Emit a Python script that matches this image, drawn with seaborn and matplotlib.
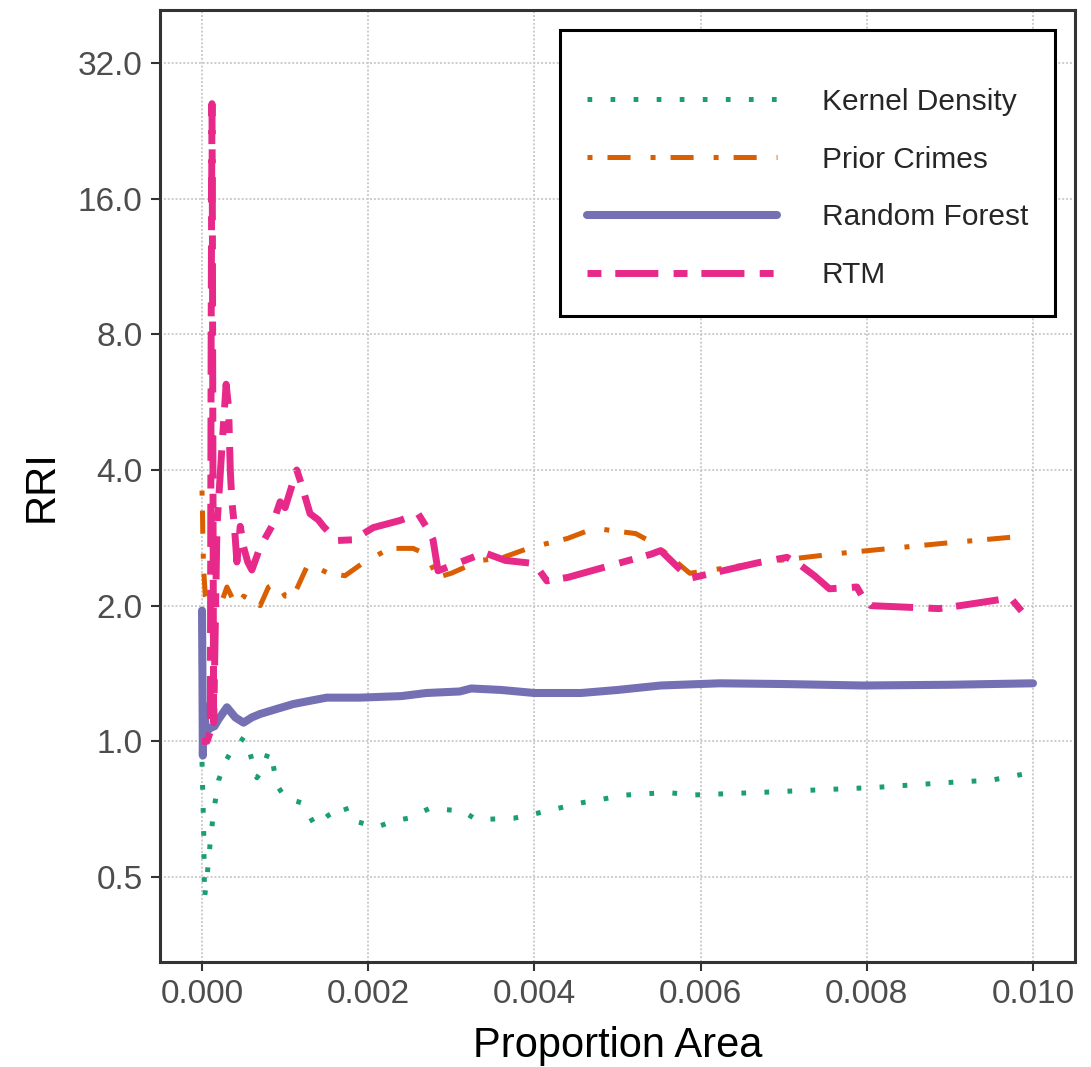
import numpy as np
import pandas as pd
import matplotlib
matplotlib.use("Agg")
import matplotlib.pyplot as plt
import seaborn as sns

# values (proportion area vs RRI)
kde_x = [0, 0.00001, 0.00002, 0.00003, 0.00006, 0.0001, 0.00014, 0.0002, 0.00028, 0.00035,
         0.00042, 0.0005, 0.00055, 0.0006, 0.00066, 0.00072, 0.0008, 0.00085, 0.0009, 0.001,
         0.0012, 0.00128, 0.00136, 0.00152, 0.00172, 0.00178, 0.0021, 0.0023, 0.00248, 0.00274,
         0.00295, 0.00314, 0.0033, 0.00375, 0.004, 0.00456, 0.0051, 0.0056, 0.0059, 0.0067,
         0.0074, 0.0081, 0.00897, 0.0095, 0.00995]
kde_y = [0.90, 0.75, 0.64, 0.45, 0.50, 0.60, 0.70, 0.82, 0.90, 0.95,
         0.97, 1.02, 0.98, 0.91, 0.83, 0.86, 0.95, 0.90, 0.80, 0.75,
         0.73, 0.69, 0.65, 0.685, 0.72, 0.67, 0.645, 0.665, 0.675, 0.71,
         0.705, 0.70, 0.67, 0.675, 0.69, 0.73, 0.76, 0.77, 0.76, 0.77,
         0.78, 0.79, 0.81, 0.82, 0.85]

prior_x = [0, 0.000005, 0.00001, 0.00002, 0.00004, 0.00008, 0.00015, 0.00022, 0.0003, 0.00038,
           0.00045, 0.0005, 0.0006, 0.0007, 0.0008, 0.0009, 0.001, 0.0011, 0.00128, 0.0015,
           0.00172, 0.00194, 0.00226, 0.00254, 0.0027, 0.00283, 0.003, 0.00335, 0.0036, 0.00395,
           0.0044, 0.00472, 0.00522, 0.00542, 0.0056, 0.00587, 0.00633, 0.00694, 0.00765, 0.00892,
           0.00995]
prior_y = [3.6, 3.3, 2.8, 2.4, 2.1, 2.0, 2.1, 2.0, 2.2, 2.05,
           2.0, 2.1, 2.05, 2.0, 2.2, 2.25, 2.1, 2.1, 2.48, 2.37,
           2.33, 2.49, 2.68, 2.68, 2.6, 2.31, 2.36, 2.52, 2.55, 2.69,
           2.82, 2.97, 2.89, 2.76, 2.6, 2.36, 2.43, 2.52, 2.61, 2.75,
           2.86]

rf_x = [0, 0.000005, 0.00001, 0.00002, 0.00005, 0.0001, 0.00015, 0.0002, 0.0003, 0.0004,
        0.0005, 0.0006, 0.0007, 0.0009, 0.0011, 0.0013, 0.0015, 0.0019, 0.0024, 0.0027,
        0.0031, 0.00324, 0.0036, 0.004, 0.00456, 0.005, 0.00552, 0.00623, 0.007, 0.00795,
        0.009, 0.01]
rf_y = [1.95, 1.4, 0.93, 1.2, 1.05, 1.07, 1.08, 1.12, 1.19, 1.13,
        1.10, 1.13, 1.15, 1.18, 1.21, 1.23, 1.25, 1.25, 1.26, 1.28,
        1.29, 1.31, 1.30, 1.28, 1.28, 1.30, 1.33, 1.345, 1.34, 1.33,
        1.335, 1.345]

rtm_x = [0, 0.00006, 0.0001, 0.00011, 0.00012, 0.000125, 0.00013, 0.00014, 0.00018, 0.00024,
         0.00029, 0.00032, 0.00034, 0.00036, 0.00039, 0.00042, 0.00046, 0.0005, 0.00055, 0.0006,
         0.0007, 0.00084, 0.00094, 0.001, 0.00114, 0.0012, 0.0013, 0.0014, 0.00146, 0.00162,
         0.00182, 0.00206, 0.00238, 0.0026, 0.00272, 0.00278, 0.00284, 0.0034, 0.00365, 0.004,
         0.00415, 0.0044, 0.0054, 0.00552, 0.00573, 0.00587, 0.00669, 0.00704, 0.0072, 0.00737,
         0.00755, 0.00788, 0.00795, 0.00805, 0.00887, 0.00912, 0.00973, 0.00993]
rtm_y = [1.0, 1.0, 1.05, 8.0, 26.0, 14.0, 5.0, 1.1, 3.0, 4.5,
         6.2, 5.5, 4.0, 3.4, 3.0, 2.5, 3.0, 2.7, 2.5, 2.4,
         2.7, 3.0, 3.4, 3.3, 4.0, 3.7, 3.2, 3.1, 3.0, 2.79,
         2.8, 2.98, 3.09, 3.2, 2.95, 2.8, 2.39, 2.62, 2.52, 2.48,
         2.27, 2.31, 2.6, 2.65, 2.43, 2.30, 2.49, 2.56, 2.46, 2.33,
         2.18, 2.2, 2.09, 2.0, 1.97, 2.0, 2.08, 1.88]

labels = ["Kernel Density", "Prior Crimes", "Random Forest", "RTM"]
y_ticks = [0.5, 1.0, 2.0, 4.0, 8.0, 16.0, 32.0]
x_ticks = [0.000, 0.002, 0.004, 0.006, 0.008, 0.010]

sns.set_style("white")
plt.rcParams["font.family"] = ["Liberation Sans", "DejaVu Sans"]
plt.rcParams["lines.scale_dashes"] = False

colors = sns.color_palette("Dark2", 4)
# (x, y, linewidth pt, dash pattern in pt)
series = [
    (kde_x, kde_y, 3.6, (0, (3.4, 13.2))),
    (prior_x, prior_y, 3.6, (0, (3.6, 10.8, 16.6, 14.4))),
    (rf_x, rf_y, 5.8, "-"),
    (rtm_x, rtm_y, 5.0, (0, (10.0, 10.0, 31.0, 11.0))),
]

fig = plt.figure(figsize=(10.91, 10.67), dpi=100)
ax = fig.add_axes([0.1467, 0.0984, 0.8386, 0.8922])

for (xs, ys, lw, ls), lab, col in zip(series, labels, colors):
    df = pd.DataFrame({"x": xs, "y": ys})
    sns.lineplot(data=df, x="x", y="y", ax=ax, color=col, lw=lw, linestyle=ls,
                 estimator=None, sort=False, label=lab, legend=False)

ax.set_yscale("log", base=2)
ax.set_ylim(0.3238, 41.95)
ax.set_xlim(-0.000505, 0.010505)
ax.set_yticks(y_ticks)
ax.set_yticklabels([f"{v:.1f}" for v in y_ticks])
ax.minorticks_off()
ax.set_xticks(x_ticks)
ax.set_xticklabels([f"{v:.3f}" for v in x_ticks])

ax.grid(True, color="#cccccc", linestyle=(0, (1.4, 1.4)), linewidth=1.4)
ax.set_axisbelow(True)
for sp in ax.spines.values():
    sp.set_color("#333333")
    sp.set_linewidth(2.2)
ax.tick_params(axis="both", which="major", length=6.5, width=1.5, color="#333333",
               labelsize=24, labelcolor="#4d4d4d", pad=6, left=True, bottom=True)

ax.set_xlabel("Proportion Area", fontsize=30, color="black", labelpad=11)
ax.set_ylabel("RRI", fontsize=30, color="black", labelpad=12)

# blank title gives the extra space above the first key, as in the reference
leg = ax.legend(loc="upper right", bbox_to_anchor=(0.978, 0.979), fontsize=21.5,
                title=" ", title_fontsize=1, frameon=True, fancybox=False,
                handlelength=6.35, handletextpad=1.5, labelspacing=1.0,
                borderpad=0.9, borderaxespad=0)
leg.get_frame().set_edgecolor("black")
leg.get_frame().set_linewidth(2.2)
leg.get_frame().set_alpha(1)

fig.savefig("out.png", dpi=100)
